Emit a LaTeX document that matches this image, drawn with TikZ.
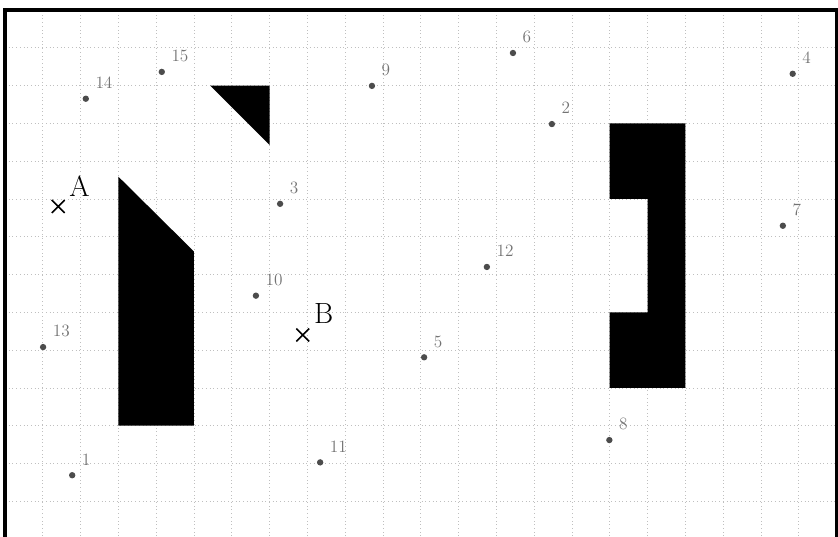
\documentclass[tikz,border=0pt]{standalone}
\usetikzlibrary{calc,shapes.misc}
\begin{document}
\begin{tikzpicture}[
  gridline/.style={gray!50, dash pattern=on 0.4pt off 2.4pt, line width=0.45pt},
  frameline/.style={line width=2.8pt},
  obstacle/.style={fill=black, draw=none},
  pdot/.style={circle, fill=black!70, inner sep=0pt, minimum size=4.8pt},
  plab/.style={text=black!55, font=\fontsize{13}{15}\selectfont, inner sep=0pt, anchor=base west},
  xmark/.style={cross out, draw=black, line width=1.2pt, inner sep=0pt, minimum size=0.3cm},
  xlab/.style={text=black, font=\fontsize{22}{26}\selectfont, inner sep=0pt, anchor=base west}
]
\useasboundingbox (-0.13,0.262) rectangle (22.039,-13.918);
\clip (-0.13,0.262) rectangle (22.039,-13.918);
% grid
\draw[gridline] (0,-13.918) grid (22,0);
% obstacles
\fill[obstacle] (5.43,-2) -- (7,-2) -- (7,-3.57) -- cycle;
\fill[obstacle] (3,-4.41) -- (5,-6.39) -- (5,-11) -- (3,-11) -- cycle;
\fill[obstacle] (16,-3) -- (18,-3) -- (18,-10) -- (16,-10) -- (16,-8) -- (17,-8) -- (17,-5) -- (16,-5) -- cycle;
% frame
\draw[frameline] (0,-14.5) -- (0,0) -- (22,0) -- (22,-14.5);
% points
\foreach \n/\x/\y in {1/1.78/-12.31, 2/14.47/-3.02, 3/7.28/-5.13, 4/20.84/-1.69,
  5/11.09/-9.19, 6/13.44/-1.14, 7/20.58/-5.71, 8/15.99/-11.38, 9/9.71/-2.01,
  10/6.64/-7.56, 11/8.34/-11.97, 12/12.75/-6.80, 13/1.01/-8.92, 14/2.14/-2.35,
  15/4.15/-1.64}{
  \node[pdot] (p\n) at (\x,\y) {};
  \node[plab] (l\n) at ($(p\n.center)+(0.25,0.27)$) {\n};
}
% A and B
\node[xmark] (A) at (1.41,-5.2) {};
\node[xlab] (Alab) at ($(A.center)+(0.29,0.27)$) {A};
\node[xmark] (B) at (7.88,-8.6) {};
\node[xlab] (Blab) at ($(B.center)+(0.29,0.3)$) {B};
\end{tikzpicture}
\end{document}
